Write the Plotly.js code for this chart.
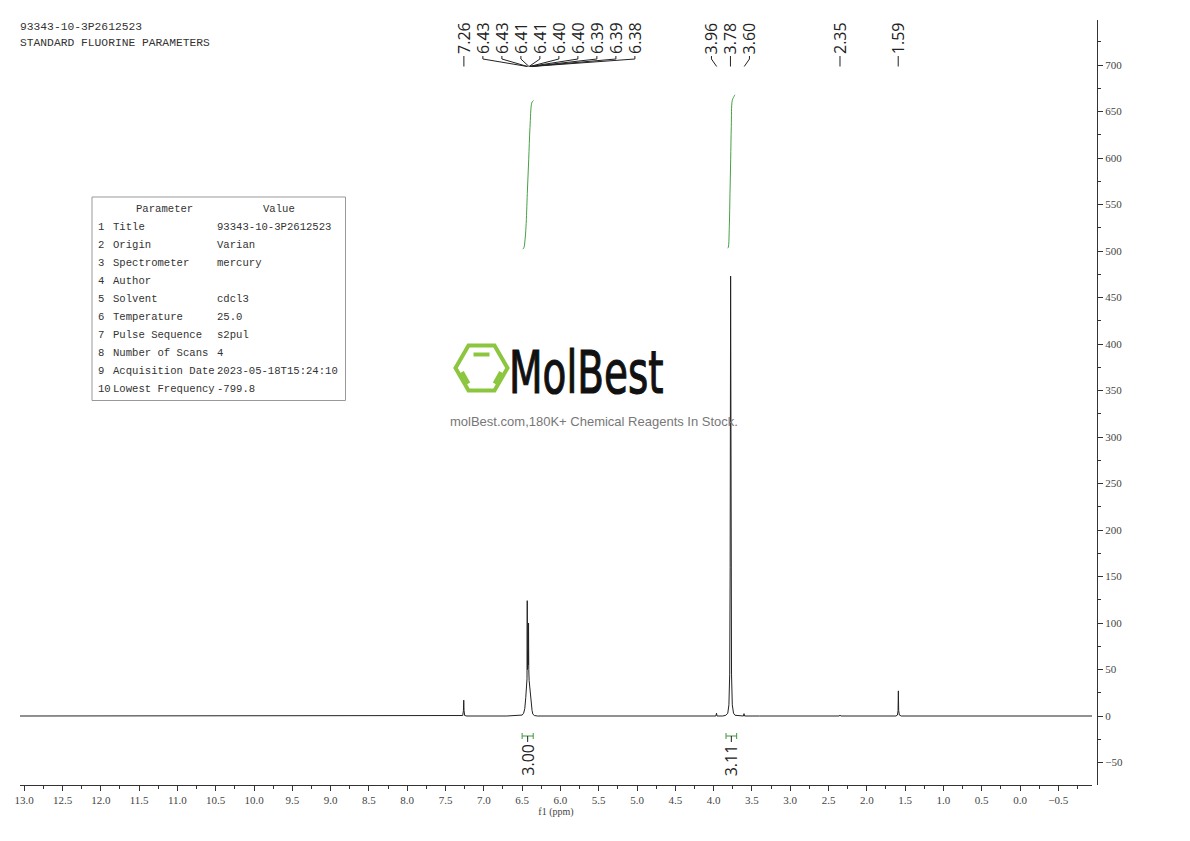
<!DOCTYPE html>
<html><head><meta charset="utf-8">
<script src="https://cdn.plot.ly/plotly-3.0.1.min.js"></script>
<style>html,body{margin:0;padding:0;background:#fff;} #chart{width:1190px;height:841px;}</style>
</head><body><div id="chart"></div>
<script>
// ---------------- data ----------------
const headerLines = ['93343-10-3P2612523', 'STANDARD FLUORINE PARAMETERS'];
const tableHeader = ['Parameter', 'Value'];
const paramNames = ['Title','Origin','Spectrometer','Author','Solvent','Temperature','Pulse Sequence','Number of Scans','Acquisition Date','Lowest Frequency'];
const paramValues = ['93343-10-3P2612523','Varian','mercury','','cdcl3','25.0','s2pul','4','2023-05-18T15:24:10','-799.8'];

const specPpm = [13.055, 7.32, 7.275, 7.266, 7.262, 7.258, 7.25, 7.22, 6.70, 6.55, 6.50, 6.48, 6.465, 6.452, 6.442, 6.436, 6.433, 6.430, 6.426, 6.422, 6.419, 6.416, 6.413, 6.408, 6.402, 6.395, 6.388, 6.38, 6.37, 6.36, 6.34, 6.30, 4.10, 3.97, 3.962, 3.955, 3.88, 3.84, 3.815, 3.80, 3.79, 3.784, 3.778, 3.772, 3.766, 3.756, 3.74, 3.72, 3.66, 3.61, 3.603, 3.596, 3.40, 2.36, 2.35, 2.34, 1.62, 1.60, 1.592, 1.588, 1.584, 1.575, 1.55, -0.94];
const specInt = [0, 0, 0.5, 6, 17, 6, 0.5, 0, 0, 0.5, 1, 3, 8, 20, 28, 40, 124, 50, 60, 70, 55, 100, 50, 38, 32, 29, 24, 15, 6, 2, 0.5, 0, 0, 0, 3, 0, 0, 0.8, 3, 12, 45, 160, 473, 160, 45, 12, 3, 0.8, 0, 0, 2.5, 0, 0, 0, 1, 0, 0, 1, 6, 27, 6, 1, 0, 0];

const peakLabels = [7.26, 6.43, 6.43, 6.41, 6.41, 6.40, 6.40, 6.39, 6.39, 6.38, 3.96, 3.78, 3.60, 2.35, 1.59];

const integ1Ppm = [6.49, 6.475, 6.462, 6.449, 6.432, 6.414, 6.397, 6.375, 6.362, 6.35];
const integ1Val = [502, 504, 512, 526, 562, 598, 633, 659, 661, 662];
const integ2Ppm = [3.815, 3.808, 3.795, 3.786, 3.777, 3.769, 3.756, 3.735, 3.721];
const integ2Val = [503, 504, 526, 562, 598, 634, 662, 666, 668];
const integralFrom = [6.50, 3.838];
const integralTo = [6.355, 3.699];
const integralLabels = ['3.00', '3.11'];

const brandName = 'MolBest';
const brandSlogan = 'molBest.com,180K+ Chemical Reagents In Stock.';

// ---------------- layout geometry ----------------
const W = 1190, H = 841, ML = 20, MR = 93, MT = 20, MB = 56;
const plotW = W - ML - MR, plotH = H - MT - MB;
const xDomEnd = 1072 / plotW;
const XR = [13.055, -0.94];
const YR = [-74.2, 748.4];
const xSpanPx = plotW * xDomEnd;
const pxX = p => ML + (XR[0] - p) / (XR[0] - XR[1]) * xSpanPx;
const ppmFromPx = px => XR[0] - (px - ML) / xSpanPx * (XR[0] - XR[1]);
const paperX = px => (px - ML) / plotW;
const paperY = py => (H - MB - py) / plotH;
const valFromPy = py => YR[0] + (H - MB - py) / plotH * (YR[1] - YR[0]);

const shapes = [];
const annotations = [];

// header text
const mono = 'Liberation Mono, DejaVu Sans Mono, monospace';
headerLines.forEach((t, i) => annotations.push({
  xref: 'paper', yref: 'paper', x: paperX(18), y: paperY(27 + i * 16), xanchor: 'left', yanchor: 'middle',
  text: t, showarrow: false, font: {family: mono, size: 11.3, color: '#333'}
}));

// parameter table
shapes.push({type: 'rect', xref: 'paper', yref: 'paper', x0: paperX(92), x1: paperX(345.5), y0: paperY(197), y1: paperY(400.5), line: {color: '#999', width: 1}});
annotations.push({xref: 'paper', yref: 'paper', x: paperX(164), y: paperY(208.5), xanchor: 'center', yanchor: 'middle', text: tableHeader[0], showarrow: false, font: {family: mono, size: 10.6, color: '#333'}});
annotations.push({xref: 'paper', yref: 'paper', x: paperX(279), y: paperY(208.5), xanchor: 'center', yanchor: 'middle', text: tableHeader[1], showarrow: false, font: {family: mono, size: 10.6, color: '#333'}});
paramNames.forEach((n, i) => {
  const y = paperY(226.5 + i * 18.05);
  annotations.push({xref: 'paper', yref: 'paper', x: paperX(96), y, xanchor: 'left', yanchor: 'middle', text: String(i + 1), showarrow: false, font: {family: mono, size: 10.6, color: '#333'}});
  annotations.push({xref: 'paper', yref: 'paper', x: paperX(111), y, xanchor: 'left', yanchor: 'middle', text: n, showarrow: false, font: {family: mono, size: 10.6, color: '#333'}});
  if (paramValues[i]) annotations.push({xref: 'paper', yref: 'paper', x: paperX(215), y, xanchor: 'left', yanchor: 'middle', text: paramValues[i], showarrow: false, font: {family: mono, size: 10.6, color: '#333'}});
});

// watermark logo
const cx = 481.5, cy = 368, R = 26, h = 22.5;
const hex = [[cx - R, cy], [cx - R / 2, cy - h], [cx + R / 2, cy - h], [cx + R, cy], [cx + R / 2, cy + h], [cx - R / 2, cy + h]];
shapes.push({type: 'path', xref: 'paper', yref: 'paper', path: 'M ' + hex.map(p => paperX(p[0]) + ',' + paperY(p[1])).join(' L ') + ' Z', line: {color: '#8cc63f', width: 4}});
[[[473.5, 354.5], [489.5, 354.5]], [[462, 372], [468.5, 383.5]], [[501, 372], [494.5, 383.5]]].forEach(s => shapes.push({
  type: 'line', xref: 'paper', yref: 'paper', x0: paperX(s[0][0]), y0: paperY(s[0][1]), x1: paperX(s[1][0]), y1: paperY(s[1][1]), line: {color: '#8cc63f', width: 4}
}));
annotations.push({xref: 'paper', yref: 'paper', x: paperX(507), y: paperY(372), xanchor: 'left', yanchor: 'middle', text: brandName, showarrow: false,
  font: {family: 'DejaVu Sans, sans-serif', size: 59, color: '#111'}});
annotations.push({xref: 'paper', yref: 'paper', x: paperX(594), y: paperY(421), xanchor: 'center', yanchor: 'middle', text: brandSlogan, showarrow: false,
  font: {family: 'Liberation Sans, Arial, sans-serif', size: 13, color: '#777'}});

// peak labels: cluster by proximity, center clusters, push right when colliding
const gap = 19;
const items = peakLabels.map(v => ({v, px: pxX(v)})).sort((a, b) => a.px - b.px);
const clusters = [];
items.forEach(it => {
  const last = clusters[clusters.length - 1];
  if (last && it.px - last[last.length - 1].px < gap) last.push(it); else clusters.push([it]);
});
let prevEnd = -1e9;
clusters.forEach(c => {
  const mean = c.reduce((s, it) => s + it.px, 0) / c.length;
  let start = Math.max(mean - (c.length - 1) * gap / 2, prevEnd + gap);
  c.forEach((it, k) => { it.lx = start + k * gap; });
  prevEnd = c[c.length - 1].lx;
});
const sans = 'Open Sans, Noto Sans, sans-serif';
items.forEach(it => {
  const lppm = ppmFromPx(it.lx);
  annotations.push({xref: 'x', yref: 'paper', x: lppm, y: paperY(55), xanchor: 'center', yanchor: 'bottom', textangle: -90,
    text: it.v.toFixed(2), showarrow: false, borderpad: 0, font: {family: sans, size: 16, color: '#222'}});
  shapes.push({type: 'path', xref: 'x', yref: 'paper',
    path: `M ${lppm},${paperY(56)} L ${lppm},${paperY(59)} L ${it.v},${paperY(66.5)}`, line: {color: '#222', width: 1}});
});

// integral brackets and labels
const bracketY = valFromPy(736), tickTop = valFromPy(733), tickBot = valFromPy(739);
integralFrom.forEach((f, i) => {
  const t = integralTo[i], mid = (f + t) / 2;
  shapes.push({type: 'line', xref: 'x', yref: 'y', x0: f, x1: t, y0: bracketY, y1: bracketY, line: {color: '#3a9a3a', width: 1}});
  shapes.push({type: 'line', xref: 'x', yref: 'y', x0: f, x1: f, y0: tickTop, y1: tickBot, line: {color: '#3a9a3a', width: 1}});
  shapes.push({type: 'line', xref: 'x', yref: 'y', x0: t, x1: t, y0: tickTop, y1: tickBot, line: {color: '#3a9a3a', width: 1}});
  shapes.push({type: 'line', xref: 'x', yref: 'y', x0: mid, x1: mid, y0: bracketY, y1: valFromPy(742), line: {color: '#222', width: 1}});
  annotations.push({xref: 'x', yref: 'paper', x: mid, y: paperY(743), xanchor: 'center', yanchor: 'top', textangle: -90,
    text: integralLabels[i], showarrow: false, borderpad: 0, font: {family: sans, size: 16, color: '#222'}});
});

const traces = [
  {x: specPpm, y: specInt, type: 'scatter', mode: 'lines', line: {color: '#222', width: 1}, hoverinfo: 'skip'},
  {x: integ1Ppm, y: integ1Val, type: 'scatter', mode: 'lines', line: {color: '#45a045', width: 1, shape: 'spline'}, hoverinfo: 'skip'},
  {x: integ2Ppm, y: integ2Val, type: 'scatter', mode: 'lines', line: {color: '#45a045', width: 1, shape: 'spline'}, hoverinfo: 'skip'}
];

const tickFont = {family: 'Liberation Serif, DejaVu Serif, serif', size: 11, color: '#444'};
const layout = {
  width: W, height: H, margin: {l: ML, r: MR, t: MT, b: MB},
  paper_bgcolor: '#fff', plot_bgcolor: '#fff', showlegend: false,
  xaxis: {domain: [0, xDomEnd], range: XR, autorange: false, showgrid: false, zeroline: false,
    showline: true, linecolor: '#333', linewidth: 1, ticks: 'outside', ticklen: 5, tickcolor: '#333',
    tick0: 0, dtick: 0.5, tickformat: '.1f', tickfont: tickFont,
    minor: {dtick: 0.25, ticks: 'outside', ticklen: 3, tickcolor: '#333', showgrid: false},
    title: {text: 'f1 (ppm)', font: {family: 'Liberation Serif, DejaVu Serif, serif', size: 10, color: '#444'}, standoff: 2}},
  yaxis: {range: YR, autorange: false, side: 'right', anchor: 'free', position: 1, showgrid: false, zeroline: false,
    showline: true, linecolor: '#333', linewidth: 1, ticks: 'outside', ticklen: 5, tickcolor: '#333',
    tick0: 0, dtick: 50, tickfont: tickFont,
    minor: {dtick: 25, ticks: 'outside', ticklen: 3, tickcolor: '#333', showgrid: false}},
  shapes, annotations
};
Plotly.newPlot('chart', traces, layout, {displayModeBar: false, staticPlot: true}).then(() => {
  // condense the brand word horizontally (the original uses a narrow display face)
  document.querySelectorAll('text.annotation-text').forEach(el => {
    if (el.textContent === brandName) {
      el.style.transformBox = 'fill-box';
      el.style.transformOrigin = 'left center';
      el.style.transform = 'scaleX(0.66)';
      el.style.stroke = '#111';
      el.style.strokeWidth = '1.2px';
    }
  });
});
</script></body></html>
